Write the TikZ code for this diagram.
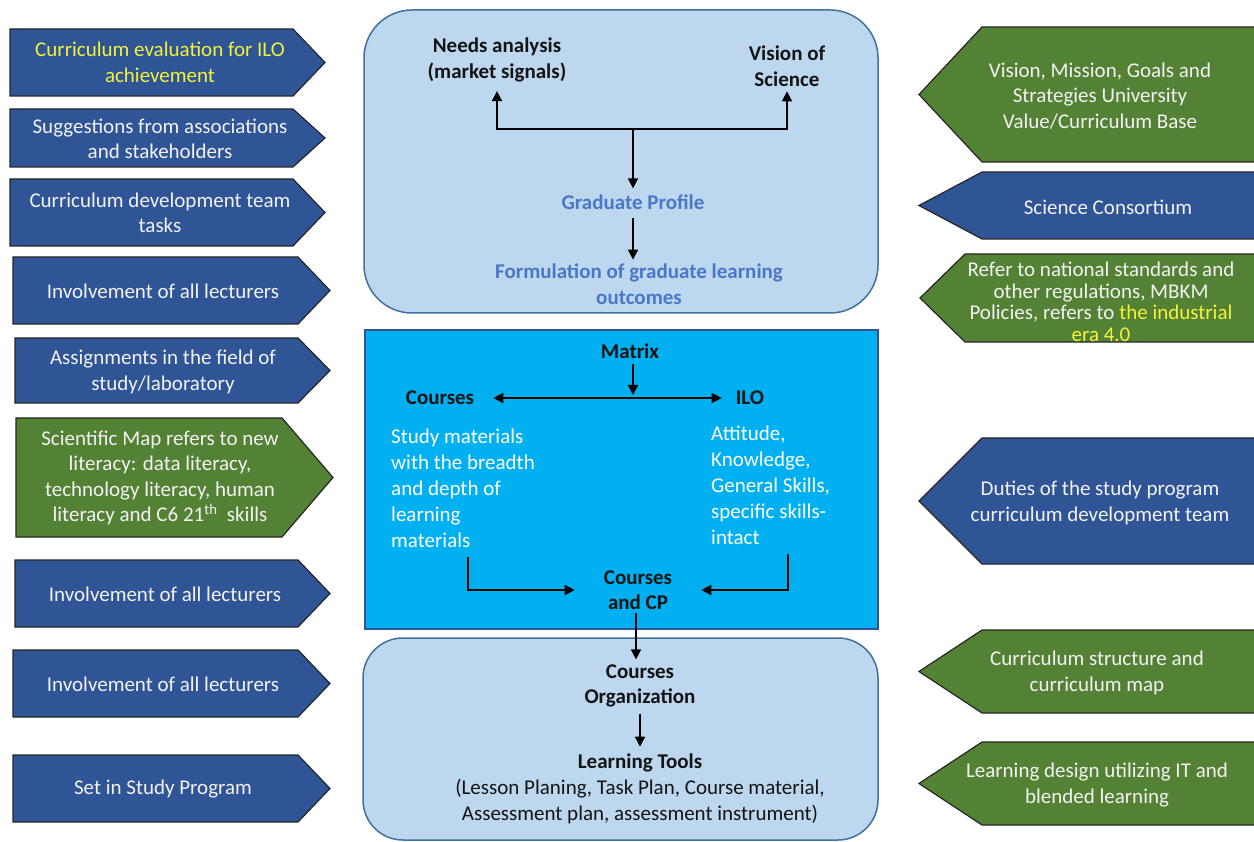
\documentclass[tikz,border=0pt]{standalone}
\usepackage{fontspec}
\setmainfont{Carlito}
\usetikzlibrary{arrows.meta,calc}
\definecolor{navy}{HTML}{2F5597}
\definecolor{leaf}{HTML}{548235}
\definecolor{pale}{HTML}{BDD7EE}
\definecolor{paleline}{HTML}{41719C}
\definecolor{cyanbox}{HTML}{00B0F0}
\definecolor{softwhite}{HTML}{F2F2F2}
\definecolor{yel}{HTML}{F2F23C}
\definecolor{profblue}{HTML}{4A78C8}
\definecolor{ink}{HTML}{141414}

% pentagon pointing right: top, bottom, left x, shoulder x, tip x, fill
\newcommand\signright[6]{%
  \filldraw[signline, fill=#6] (#3,#1) -- (#4,#1) -- (#5,{(#1+#2)/2}) -- (#4,#2) -- (#3,#2) -- cycle;}
% pentagon pointing left (open to the right edge): top, bottom, shoulder x, tip x, fill
\newcommand\signleft[5]{%
  \filldraw[signline, fill=#5] (1262,#1) -- (#3,#1) -- (#4,{(#1+#2)/2}) -- (#3,#2) -- (1262,#2) -- cycle;}

\begin{document}
\begin{tikzpicture}[x=1pt,y=-1pt,
  signline/.style={draw=black!85, line width=1.2pt},
  signtxt/.style={text=softwhite, align=center, inner sep=1pt,
    font=\fontsize{21}{25.5}\selectfont},
  boldtxt/.style={text=ink, align=center, inner sep=1pt,
    font=\fontsize{21}{25.5}\selectfont\bfseries},
  plaintxt/.style={align=left, inner sep=1pt,
    font=\fontsize{21}{26}\selectfont},
  arr/.style={draw=black, line width=1.7pt, -{Triangle[length=10pt,width=10pt]}},
  dblarr/.style={draw=black, line width=1.7pt,
    {Triangle[length=10pt,width=10pt]}-{Triangle[length=10pt,width=10pt]}},
  roundpanel/.style={fill=pale, draw=paleline, line width=1.5pt},
]
\useasboundingbox (0,0) rectangle (1254,842);
\fill[white] (0,0) rectangle (1254,842);

% ---------- left column ----------
\signright{29}{96}{10}{293}{325}{navy}
\node[signtxt, text=yel] (l1) at (160,62.5) {Curriculum evaluation for ILO\\achievement};
\signright{109}{167}{10}{293}{325}{navy}
\node[signtxt] (l2) at (160,139) {Suggestions from associations\\and stakeholders};
\signright{179}{246}{10}{293}{325}{navy}
\node[signtxt] (l3) at (160,213) {Curriculum development team\\tasks};
\signright{257}{324}{13}{298}{330}{navy}
\node[signtxt] (l4) at (163,291) {Involvement of all lecturers};
\signright{338}{403}{15}{298}{330}{navy}
\node[signtxt] (l5) at (163,372) {Assignments in the field of\\study/laboratory};
\signright{418}{537}{16}{282}{333}{leaf}
\node[signtxt] (l6) at (160,478) {Scientific Map refers to new\\literacy: data literacy,\\technology literacy, human\\literacy and C6 21\textsuperscript{th}\ \ skills};
\signright{560}{627}{15}{298}{330}{navy}
\node[signtxt] (l7) at (165,594) {Involvement of all lecturers};
\signright{650}{717}{13}{298}{330}{navy}
\node[signtxt] (l8) at (163,684) {Involvement of all lecturers};
\signright{755}{822}{13}{298}{330}{navy}
\node[signtxt] (l9) at (163,789) {Set in Study Program};

% ---------- right column ----------
\signleft{27}{162}{982}{919}{leaf}
\node[signtxt] (r1) at (1100,96) {Vision, Mission, Goals and\\Strategies University\\Value/Curriculum Base};
\signleft{172}{239}{982}{919}{navy}
\node[signtxt] (r2) at (1108,207) {Science Consortium};
\signleft{254}{342}{965}{920}{leaf}
\node[signtxt, font=\fontsize{21}{21.5}\selectfont] (r3) at (1101,302)
  {Refer to national standards and\\other regulations, MBKM\\Policies, refers to \textcolor{yel}{the industrial}\\\textcolor{yel}{era 4.0}};
\signleft{438}{564}{982}{919}{navy}
\node[signtxt] (r4) at (1100,503) {Duties of the study program\\curriculum development team};
\signleft{630}{713}{982}{919}{leaf}
\node[signtxt] (r5) at (1097,673) {Curriculum structure and\\curriculum map};
\signleft{742}{825}{982}{919}{leaf}
\node[signtxt] (r6) at (1097,785) {Learning design utilizing IT and\\blended learning};

% ---------- upper panel: graduate profile ----------
\draw[roundpanel, rounded corners=48pt] (364,10) rectangle (878,313);
\node[boldtxt] (needs) at (497,60) {Needs analysis\\(market signals)};
\node[boldtxt] (vision) at (787,66) {Vision of\\Science};
\node[boldtxt, text=profblue] (profile) at (633,202) {Graduate Profile};
\node[boldtxt, text=profblue] (lo) at (639,284) {Formulation of graduate learning\\outcomes};
\coordinate (split) at (633,129);
\draw[arr, shorten >=8pt] (split) -| (needs.south);
\draw[arr, shorten >=4pt] (split) -| (vision.south);
\draw[arr, shorten >=5pt] (split) -- (split |- profile.north);
\draw[arr, shorten <=7pt, shorten >=3pt] (profile.south -| split) -- (split |- lo.north);

% ---------- middle panel: matrix ----------
\draw[fill=cyanbox, draw=navy, line width=1.5pt] (365,330) rectangle (878,629);
\node[boldtxt] (matrix) at (630,351) {Matrix};
\node[boldtxt] (courses) at (440,398) {Courses};
\node[boldtxt] (ilo) at (750,398) {ILO};
\node[plaintxt, text=white, anchor=west] (study) at (390,488)
  {Study materials\\with the breadth\\and depth of\\learning\\materials};
\node[plaintxt, text=white, anchor=west] (ilotext) at (710,485)
  {Attitude,\\Knowledge,\\General Skills,\\specific skills-\\intact};
\node[boldtxt] (cp) at (638,590) {Courses\\and CP};
\draw[arr, shorten <=4pt, shorten >=3pt] (633,0 |- matrix.south) -- (633,0 |- courses);
\draw[dblarr, shorten <=18pt, shorten >=13pt] (courses) -- (ilo);
\draw[arr, shorten <=8pt, shorten >=28pt] (468,0 |- study.south) |- (cp.west);
\draw[arr, shorten <=8pt, shorten >=28pt] (788,0 |- ilotext.south) |- (cp.east);

% ---------- lower panel: organization ----------
\draw[roundpanel, rounded corners=40pt] (363,638) rectangle (878,840);
\node[boldtxt] (corg) at (640,686) {Courses\\Organization};
\node[align=center, text=ink, inner sep=1pt, font=\fontsize{21}{26}\selectfont] (tools) at (640,789)
  {\textbf{Learning Tools}\\(Lesson Planing, Task Plan, Course material,\\Assessment plan, assessment instrument)};
\draw[arr, shorten <=2pt, shorten >=4pt] (636,0 |- cp.south) -- (636,0 |- corg.north);
\draw[arr, shorten <=5pt, shorten >=6pt] (corg.south) -- (corg.south |- tools.north);
\end{tikzpicture}
\end{document}
